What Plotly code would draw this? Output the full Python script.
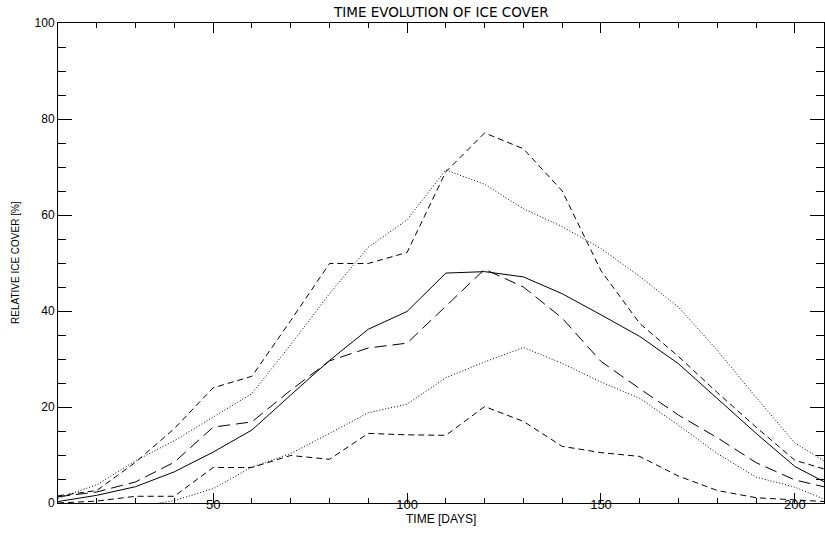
import plotly.graph_objects as go

days = [10, 20, 30, 40, 50, 60, 70, 80, 90, 100, 110, 120, 130, 140, 150, 160, 170, 180, 190, 200, 210]

upper_dashed = [1.5, 2.6, 8.5, 15.5, 24.0, 26.4, 38.0, 49.9, 49.9, 52.2, 69.0, 77.1, 73.8, 65.0, 48.4, 37.4, 30.5, 23.0, 15.8, 8.9, 6.5]
upper_dotted = [1.0, 3.8, 8.8, 13.0, 17.9, 22.8, 33.0, 43.6, 53.3, 59.0, 69.4, 66.4, 61.3, 57.6, 53.0, 47.2, 40.8, 31.8, 22.0, 12.5, 7.5]
long_dashed = [1.3, 2.3, 4.4, 8.5, 15.8, 16.9, 23.5, 29.6, 32.3, 33.3, 41.0, 48.7, 45.0, 38.5, 29.5, 23.8, 18.3, 13.6, 8.4, 4.8, 2.9]
solid_mean = [0.3, 1.6, 3.4, 6.5, 10.6, 15.2, 22.5, 29.7, 36.2, 39.9, 47.9, 48.2, 47.1, 43.6, 39.2, 34.7, 29.0, 21.8, 14.5, 7.6, 3.4]
lower_dotted = [-1.5, -1.2, -0.8, 0.5, 3.0, 7.5, 10.3, 14.5, 18.8, 20.6, 26.1, 29.4, 32.4, 29.1, 25.2, 21.8, 16.2, 10.3, 5.4, 3.3, 0.0]
lower_dashed = [0.0, 0.4, 1.4, 1.4, 7.4, 7.4, 9.9, 9.1, 14.5, 14.2, 14.1, 20.1, 17.0, 11.8, 10.5, 9.7, 5.6, 2.6, 1.1, 0.6, 0.2]

x_ticks = [50, 100, 150, 200]
y_ticks = [0, 20, 40, 60, 80, 100]

title_text = "TIME EVOLUTION OF ICE COVER"
x_title = "TIME [DAYS]"
y_title = "RELATIVE ICE COVER [%]"

FONT = "Liberation Sans, Arial, sans-serif"
TITLE_FONT = "DejaVu Sans, sans-serif"
short_dash = "6px,4px"
long_dash = "12px,6px"
dots = "1px,2px"

series = [
    (upper_dashed, short_dash),
    (upper_dotted, dots),
    (long_dashed, long_dash),
    (solid_mean, "solid"),
    (lower_dotted, dots),
    (lower_dashed, short_dash),
]

fig = go.Figure()
for vals, dash in series:
    fig.add_trace(go.Scatter(
        x=days, y=vals, mode="lines",
        line=dict(color="black", width=1, dash=dash),
        showlegend=False, hoverinfo="skip",
    ))

fig.update_layout(
    width=825, height=536,
    margin=dict(l=58, r=1, t=23, b=33),
    paper_bgcolor="white", plot_bgcolor="white",
    font=dict(family=FONT, size=12, color="black"),
    showlegend=False,
)

fig.add_annotation(text=title_text, xref="paper", yref="paper", x=0.5, y=1.0,
                   yshift=11, showarrow=False, font=dict(size=13.5, family=TITLE_FONT),
                   xanchor="center", yanchor="middle")
fig.add_annotation(text=x_title, xref="paper", yref="paper", x=0.5, y=0.0,
                   yshift=-16, showarrow=False, font=dict(size=12, family=FONT),
                   xanchor="center", yanchor="middle")
fig.add_annotation(text=y_title, xref="paper", yref="paper", x=0.0, y=0.5,
                   xshift=-43, showarrow=False, textangle=-90,
                   font=dict(size=10, family=FONT),
                   xanchor="center", yanchor="middle")

fig.update_xaxes(
    range=[10, 207.5], tickvals=x_ticks, ticktext=[str(v) for v in x_ticks],
    ticks="inside", ticklen=10, tickwidth=1, tickcolor="black",
    minor=dict(dtick=10, tick0=0, ticks="inside", ticklen=5, tickwidth=1, tickcolor="black"),
    showline=True, linecolor="black", linewidth=1, mirror="ticks",
    showgrid=False, zeroline=False, tickfont=dict(size=13), ticklabelstandoff=-11,
)
fig.update_yaxes(
    range=[0, 100], tickvals=y_ticks, ticktext=[str(v) for v in y_ticks],
    ticks="inside", ticklen=14, tickwidth=1, tickcolor="black",
    minor=dict(dtick=5, tick0=0, ticks="inside", ticklen=8, tickwidth=1, tickcolor="black"),
    showline=True, linecolor="black", linewidth=1, mirror="ticks",
    showgrid=False, zeroline=False, tickfont=dict(size=12),
)

fig.write_html("out.html")
